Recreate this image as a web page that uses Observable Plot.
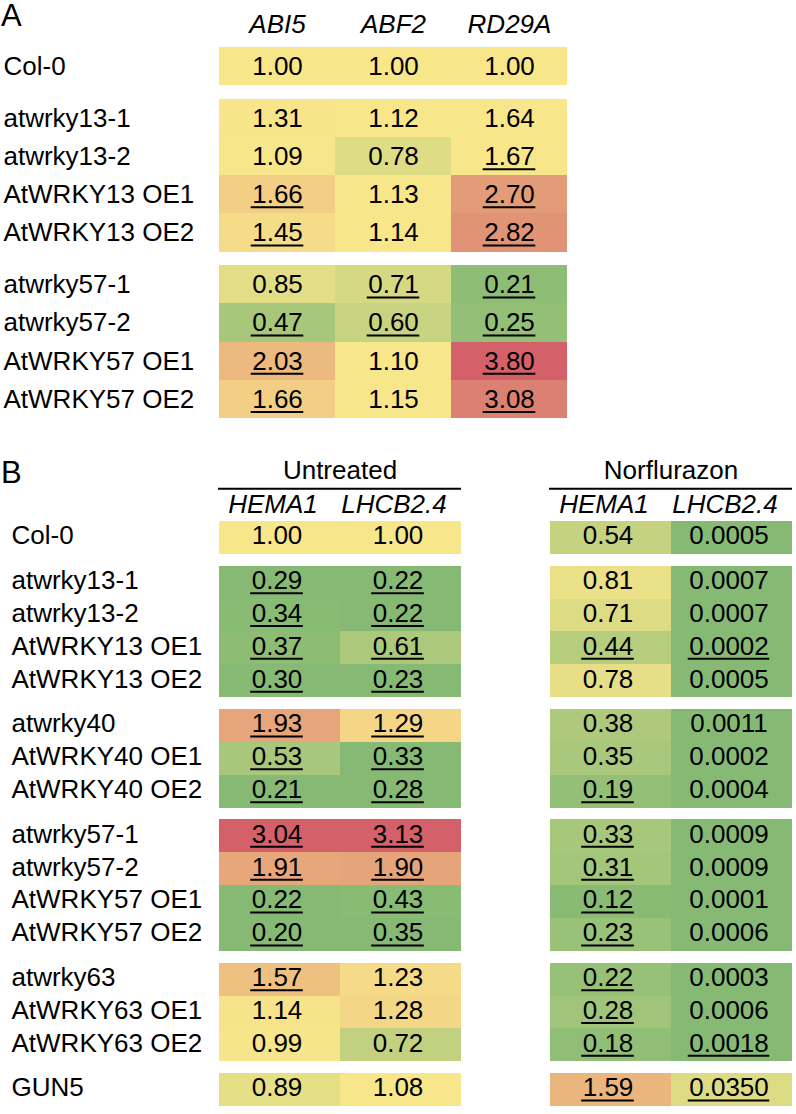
<!DOCTYPE html>
<html>
<head>
<meta charset="utf-8">
<script src="https://cdn.jsdelivr.net/npm/d3@7"></script>
<script src="https://cdn.jsdelivr.net/npm/@observablehq/plot@0.6"></script>
<style>
  body { margin: 0; background: #fff; font-family: "Liberation Sans", Arial, Helvetica, sans-serif; }
  .panel { position: relative; width: 796px; }
  .letter { position: absolute; left: 1px; font-size: 31px; line-height: 30px; color: #000; }
  svg { display: block; }
</style>
</head>
<body>
<div class="panel" id="panelA"><div class="letter" style="top:1px">A</div></div>
<div class="panel" id="panelB"><div class="letter" style="top:28px">B</div></div>
<script>
// ---------- Panel A data ----------
const genesA = ["ABI5", "ABF2", "RD29A"];
const rowsA = ["Col-0", "atwrky13-1", "atwrky13-2", "AtWRKY13 OE1", "AtWRKY13 OE2",
               "atwrky57-1", "atwrky57-2", "AtWRKY57 OE1", "AtWRKY57 OE2"];
const groupsA = [0, 1, 1, 1, 1, 2, 2, 2, 2];
const abi5  = [1.00, 1.31, 1.09, 1.66, 1.45, 0.85, 0.47, 2.03, 1.66];
const abf2  = [1.00, 1.12, 0.78, 1.13, 1.14, 0.71, 0.60, 1.10, 1.15];
const rd29a = [1.00, 1.64, 1.67, 2.70, 2.82, 0.21, 0.25, 3.80, 3.08];
const abi5Sig  = [0, 0, 0, 1, 1, 0, 1, 1, 1];
const abf2Sig  = [0, 0, 0, 0, 0, 1, 1, 0, 0];
const rd29aSig = [0, 0, 1, 1, 1, 1, 1, 1, 1];

// ---------- Panel B data ----------
const treatments = ["Untreated", "Norflurazon"];
const genesB = ["HEMA1", "LHCB2.4"];
const rowsB = ["Col-0", "atwrky13-1", "atwrky13-2", "AtWRKY13 OE1", "AtWRKY13 OE2",
               "atwrky40", "AtWRKY40 OE1", "AtWRKY40 OE2",
               "atwrky57-1", "atwrky57-2", "AtWRKY57 OE1", "AtWRKY57 OE2",
               "atwrky63", "AtWRKY63 OE1", "AtWRKY63 OE2", "GUN5"];
const groupsB = [0, 1, 1, 1, 1, 2, 2, 2, 3, 3, 3, 3, 4, 4, 4, 5];
const untreatedHEMA1 = [1.00, 0.29, 0.34, 0.37, 0.30, 1.93, 0.53, 0.21, 3.04, 1.91, 0.22, 0.20, 1.57, 1.14, 0.99, 0.89];
const untreatedLHCB  = [1.00, 0.22, 0.22, 0.61, 0.23, 1.29, 0.33, 0.28, 3.13, 1.90, 0.43, 0.35, 1.23, 1.28, 0.72, 1.08];
const norfHEMA1      = [0.54, 0.81, 0.71, 0.44, 0.78, 0.38, 0.35, 0.19, 0.33, 0.31, 0.12, 0.23, 0.22, 0.28, 0.18, 1.59];
const norfLHCB       = [0.0005, 0.0007, 0.0007, 0.0002, 0.0005, 0.0011, 0.0002, 0.0004, 0.0009, 0.0009, 0.0001, 0.0006, 0.0003, 0.0006, 0.0018, 0.0350];
const untreatedHEMA1Sig = [0, 1, 1, 1, 1, 1, 1, 1, 1, 1, 1, 1, 1, 0, 0, 0];
const untreatedLHCBSig  = [0, 1, 1, 1, 1, 1, 1, 1, 1, 1, 1, 1, 0, 0, 0, 0];
const norfHEMA1Sig      = [0, 0, 0, 1, 0, 0, 0, 1, 1, 1, 1, 1, 1, 1, 1, 1];
const norfLHCBSig       = [0, 0, 0, 1, 0, 0, 0, 0, 0, 0, 0, 0, 0, 0, 1, 1];

// ---------- colour-scale anchors per column: [green, yellow from, yellow to, red] ----------
const shadeAnchors = {
  "ABI5": [0.24, 1.0, 1.28, 3.5],
  "ABF2": [0.05, 1.0, 1.2, 4.0],
  "RD29A": [0.15, 1.0, 1.68, 3.5],
  "Untreated HEMA1": [0.33, 1.0, 1.1, 2.8],
  "Untreated LHCB2.4": [0.42, 1.0, 1.1, 2.7],
  "Norflurazon HEMA1": [0.1, 0.9, 0.9, 2.8],
  "Norflurazon LHCB2.4": [0.002, 0.045, 0.045, 0.5]
};
const shadeColors = ["#86ba74", "#f8e68a", "#d4616a"];

function shade(v, [lo, a, b, hi]) {
  if (v < a) return (v - a) / (a - lo);
  if (v > b) return (v - b) / (hi - b);
  return 0;
}

const FONT = "Liberation Sans, Arial, Helvetica, sans-serif";
const FS = 26;
const gapUnits = 0.36; // blank space between row groups, in row units

const ctx = document.createElement("canvas").getContext("2d");
ctx.font = `${FS}px "Liberation Sans", Arial, sans-serif`;
const textWidth = s => ctx.measureText(s).width;

// underline marks: one tickY per text width so that the line matches the number's width
function underlines(cells, bandwidth, dy, extra = {}) {
  const sig = cells.filter(d => d.sig);
  const byWidth = d3.group(sig, d => d.text.length);
  return Array.from(byWidth, ([, ds]) => {
    const inset = (bandwidth - textWidth(ds[0].text)) / 2 - 1;
    return Plot.tickY(ds, {
      ...extra, x: "gene", y: d => d.pos + 0.5, dy,
      insetLeft: inset, insetRight: inset, stroke: "#000", strokeWidth: 2
    });
  });
}

// ---------- Panel A ----------
const posA = rowsA.map((r, i) => i + groupsA[i] * gapUnits);
const totalA = rowsA.length + d3.max(groupsA) * gapUnits;
const colsA = {ABI5: [abi5, abi5Sig], ABF2: [abf2, abf2Sig], RD29A: [rd29a, rd29aSig]};
const cellsA = [];
genesA.forEach(g => {
  const [vals, sig] = colsA[g];
  vals.forEach((v, i) => cellsA.push({
    gene: g, row: rowsA[i], pos: posA[i], value: v, sig: sig[i],
    text: d3.format(".2f")(v), shade: shade(v, shadeAnchors[g])
  }));
});
const rowDataA = rowsA.map((r, i) => ({row: r, pos: posA[i]}));

function makeA(bw) {
  return Plot.plot({
    width: 796,
    height: 430,
    marginTop: 47,
    marginBottom: 12,
    marginLeft: 219,
    marginRight: 229,
    style: {fontFamily: FONT, fontSize: "26px", color: "#000", background: "transparent"},
    x: {domain: genesA, padding: 0},
    y: {domain: [0, totalA], reverse: true, axis: null},
    color: {type: "linear", domain: [-1, 0, 1], range: shadeColors, clamp: true},
    marks: [
      Plot.barY(cellsA, {x: "gene", y1: "pos", y2: d => d.pos + 1, fill: "shade", shapeRendering: "crispEdges"}),
      Plot.axisX({anchor: "top", tickSize: 0, tickPadding: 15, fontSize: FS, fontStyle: "italic", label: null}),
      Plot.text(cellsA, {x: "gene", y: d => d.pos + 0.5, text: "text", fontSize: FS, fill: "#000"}),
      ...(bw ? underlines(cellsA, bw, 12.5) : []),
      Plot.text(rowDataA, {y: d => d.pos + 0.5, text: "row", frameAnchor: "left", textAnchor: "start", dx: -216, fontSize: FS, fill: "#000"})
    ]
  });
}
const bwA = makeA(0).scale("x").bandwidth;
document.getElementById("panelA").appendChild(makeA(bwA));

// ---------- Panel B ----------
const posB = rowsB.map((r, i) => i + groupsB[i] * gapUnits);
const totalB = rowsB.length + d3.max(groupsB) * gapUnits;
const colsB = {
  "Untreated HEMA1": [untreatedHEMA1, untreatedHEMA1Sig, ".2f"],
  "Untreated LHCB2.4": [untreatedLHCB, untreatedLHCBSig, ".2f"],
  "Norflurazon HEMA1": [norfHEMA1, norfHEMA1Sig, ".2f"],
  "Norflurazon LHCB2.4": [norfLHCB, norfLHCBSig, ".4f"]
};
const cellsB = [];
treatments.forEach(t => genesB.forEach(g => {
  const key = t + " " + g;
  const [vals, sig, fmt] = colsB[key];
  vals.forEach((v, i) => cellsB.push({
    treatment: t, gene: g, row: rowsB[i], pos: posB[i], value: v, sig: sig[i],
    text: d3.format(fmt)(v), shade: shade(v, shadeAnchors[key])
  }));
}));
const rowDataB = rowsB.map((r, i) => ({row: r, pos: posB[i]}));
const headerLine = -1; // rule under the treatment titles, one row above the table

function makeB(bw) {
  return Plot.plot({
    width: 796,
    height: 684,
    marginTop: 91,
    marginBottom: 8,
    marginLeft: 217,
    marginRight: 3,
    style: {fontFamily: FONT, fontSize: "26px", color: "#000", background: "transparent"},
    fx: {domain: treatments, paddingInner: 0.265, paddingOuter: 0},
    x: {domain: genesB, padding: 0},
    y: {domain: [0, totalB], reverse: true, axis: null},
    color: {type: "linear", domain: [-1, 0, 1], range: shadeColors, clamp: true},
    marks: [
      Plot.barY(cellsB, {fx: "treatment", x: "gene", y1: "pos", y2: d => d.pos + 1, fill: "shade", shapeRendering: "crispEdges"}),
      Plot.ruleY([headerLine], {stroke: "#000", strokeWidth: 2}),
      Plot.axisFx({anchor: "top", tickSize: 0, tickPadding: 43, fontSize: FS, label: null}),
      Plot.axisX({anchor: "top", tickSize: 0, tickPadding: 9, dx: -7, fontSize: FS, fontStyle: "italic", label: null}),
      Plot.text(cellsB, {fx: "treatment", x: "gene", y: d => d.pos + 0.5, dy: -2, dx: -3, text: "text", fontSize: FS, fill: "#000"}),
      ...(bw ? underlines(cellsB, bw, 10.5, {fx: "treatment", dx: -3}) : []),
      Plot.text(rowDataB, {fx: () => "Untreated", y: d => d.pos + 0.5, dy: -2, text: "row", frameAnchor: "left", textAnchor: "start", dx: -207, fontSize: FS, fill: "#000"})
    ]
  });
}
const bwB = makeB(0).scale("x").bandwidth;
document.getElementById("panelB").appendChild(makeB(bwB));
</script>
</body>
</html>
